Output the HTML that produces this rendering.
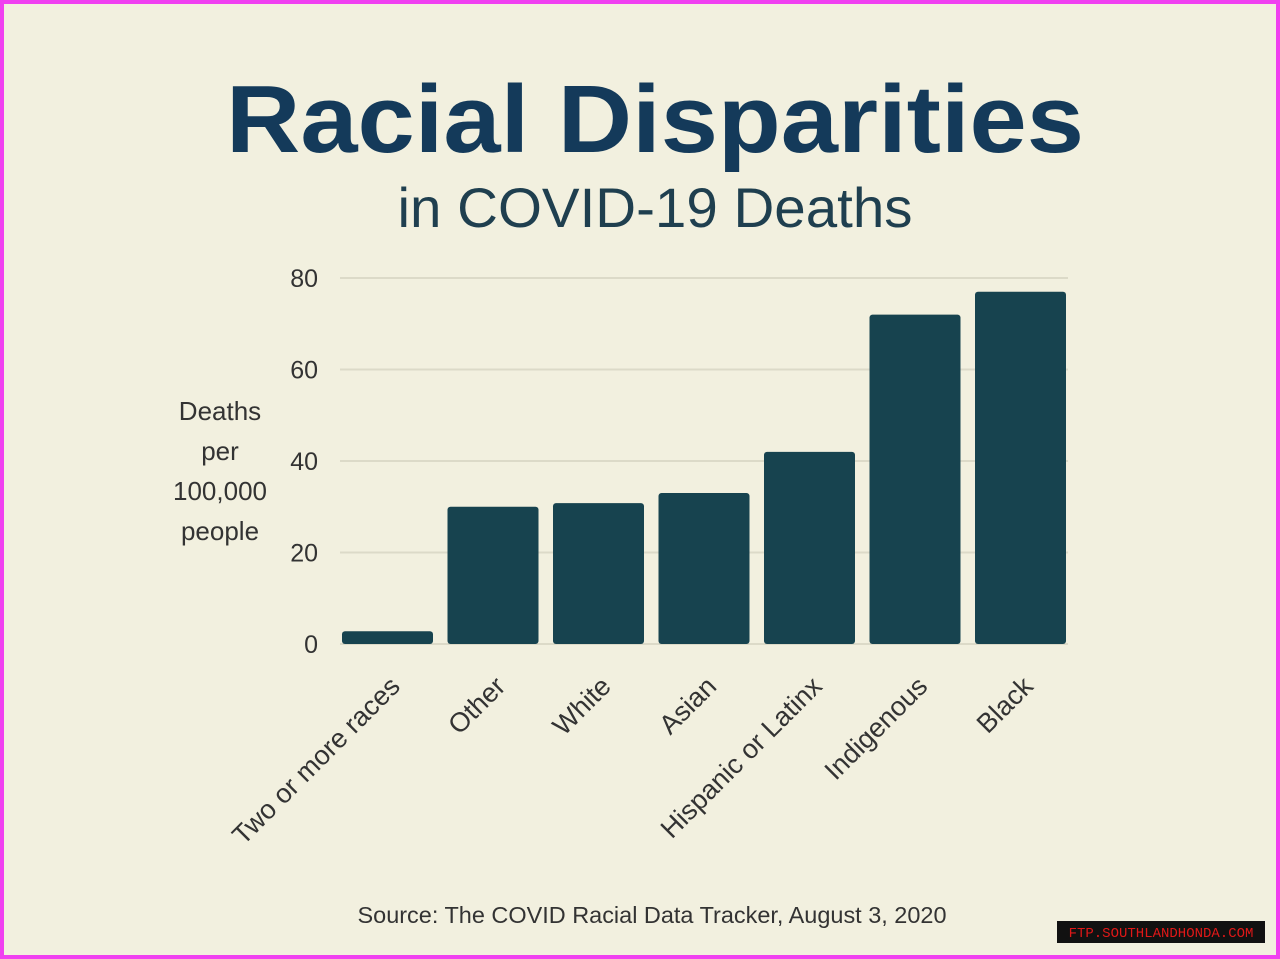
<!DOCTYPE html>
<html><head><meta charset="utf-8"><style>
html,body{margin:0;padding:0}
body{width:1280px;height:959px;overflow:hidden;background:#f040f0;font-family:"Liberation Sans",sans-serif}
#frame{position:absolute;left:4px;top:4px;width:1272px;height:951px;background:#f2f0df}
</style></head><body>
<div id="frame"></div>
<svg id="chart" width="1280" height="959" style="position:absolute;left:0;top:0">
<text x="655" y="152" text-anchor="middle" font-size="96" font-weight="bold" fill="#143a5a" textLength="858" lengthAdjust="spacingAndGlyphs">Racial Disparities</text>
<text x="655" y="227" text-anchor="middle" font-size="56" fill="#1f3f4f" textLength="515" lengthAdjust="spacingAndGlyphs">in COVID-19 Deaths</text>
<g font-size="26" fill="#333" text-anchor="middle">
<text x="220" y="420">Deaths</text><text x="220" y="460">per</text><text x="220" y="500">100,000</text><text x="220" y="540">people</text></g>
<g id="grid"></g><g id="bars"></g><g id="xlabels"></g>
<text x="652" y="923" text-anchor="middle" font-size="23" fill="#333" textLength="589" lengthAdjust="spacingAndGlyphs">Source: The COVID Racial Data Tracker, August 3, 2020</text>
<rect x="1057" y="921" width="208" height="22" fill="#111"/>
<text x="1161" y="937" text-anchor="middle" font-family="Liberation Mono, monospace" font-size="14" fill="#e01818">FTP.SOUTHLANDHONDA.COM</text>
</svg>
<script>
const categories=["Two or more races","Other","White","Asian","Hispanic or Latinx","Indigenous","Black"];
const values=[2.8,30,30.8,33,42,72,77];
const yTicks=[0,20,40,60,80];
const NS="http://www.w3.org/2000/svg";
const y0=644,pxPer=(644-278)/80,xStart=337,slot=105.5,bw=91;
const y=v=>y0-v*pxPer;
const x=i=>xStart+i*slot+5;
function mk(t,a){const e=document.createElementNS(NS,t);for(const k in a)e.setAttribute(k,a[k]);return e;}
const grid=document.getElementById('grid');
yTicks.forEach(t=>{
  const l=mk('line',{x1:340,x2:1068,y1:y(t),y2:y(t),stroke:'#dcdac8','stroke-width':2});
  
  
  grid.appendChild(l);
  const tx=mk('text',{x:318,y:y(t)+9,'text-anchor':'end','font-size':25,fill:'#333'});
  tx.textContent=t;
  
  
  grid.appendChild(tx);
});
const bars=document.getElementById('bars'),xl=document.getElementById('xlabels');
categories.forEach((c,i)=>{
  const r=mk('rect',{x:x(i),y:y(values[i]),width:bw,height:y0-y(values[i]),rx:3,fill:'#17434f'});
  
  
  bars.appendChild(r);
  const cx=x(i)+bw/2+14,cy=688;
  const t=mk('text',{x:cx,y:cy,'text-anchor':'end','font-size':27,fill:'#333',transform:`rotate(-45 ${cx} ${cy})`});
  t.textContent=c;
  
  
  xl.appendChild(t);
});
</script>
</body></html>
